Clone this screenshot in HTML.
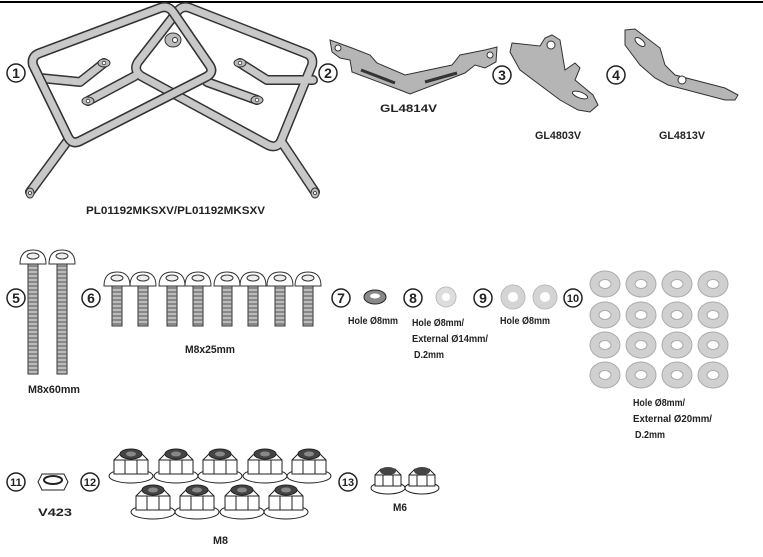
<!DOCTYPE html>
<html><head><meta charset="utf-8"><style>
html,body{margin:0;padding:0;background:#fff;width:763px;height:557px;overflow:hidden}
svg{display:block}
text{font-family:"Liberation Sans Narrow","Liberation Sans",sans-serif;font-weight:bold;fill:#222}
.n{font-size:14px;text-anchor:middle}
.l{font-size:11px}
.s{font-size:10px}
</style></head><body>
<svg width="763" height="557" viewBox="0 0 763 557" xmlns="http://www.w3.org/2000/svg">
<defs>
<g id="bl"><rect x="-5" y="0" width="10" height="112" fill="#bbb" stroke="#333" stroke-width="1"/>
<path d="M-5,4h10M-5,8h10M-5,12h10M-5,16h10M-5,20h10M-5,24h10M-5,28h10M-5,32h10M-5,36h10M-5,40h10M-5,44h10M-5,48h10M-5,52h10M-5,56h10M-5,60h10M-5,64h10M-5,68h10M-5,72h10M-5,76h10M-5,80h10M-5,84h10M-5,88h10M-5,92h10M-5,96h10M-5,100h10M-5,104h10M-5,108h10" stroke="#555" stroke-width="1"/>
<path d="M-13,2 Q-13,-12 0,-12 Q13,-12 13,2 Z" fill="#fff" stroke="#333"/><ellipse cx="0" cy="-6" rx="6" ry="3" fill="#eee" stroke="#333"/></g>
<g id="bs"><rect x="-5" y="0" width="10" height="42" fill="#bbb" stroke="#333" stroke-width="1"/>
<path d="M-5,4h10M-5,8h10M-5,12h10M-5,16h10M-5,20h10M-5,24h10M-5,28h10M-5,32h10M-5,36h10M-5,40h10" stroke="#555"/>
<path d="M-13,2 Q-13,-12 0,-12 Q13,-12 13,2 Z" fill="#fff" stroke="#333"/><ellipse cx="0" cy="-6" rx="6" ry="3" fill="#eee" stroke="#333"/></g>
<g id="nut"><ellipse cx="0" cy="10" rx="22" ry="7" fill="#fff" stroke="#222"/>
<path d="M-17,8 L-17,-6 L-9,-14 L9,-14 L17,-6 L17,8 Z" fill="#fff" stroke="#222"/>
<path d="M-6,-6 L-6,8 M6,-6 L6,8 M-17,-6 L-6,-6 L6,-6 L17,-6" stroke="#222" fill="none"/>
<ellipse cx="0" cy="-12" rx="11" ry="5" fill="#444" stroke="#222"/><ellipse cx="0" cy="-12" rx="5" ry="2.5" fill="#888"/></g>
<g id="nut6"><ellipse cx="0" cy="8" rx="17" ry="6" fill="#fff" stroke="#222"/>
<path d="M-13,6 L-13,-5 L-7,-11 L7,-11 L13,-5 L13,6 Z" fill="#fff" stroke="#222"/>
<path d="M-5,-5 L-5,6 M5,-5 L5,6 M-13,-5 L13,-5" stroke="#222" fill="none"/>
<ellipse cx="0" cy="-9" rx="8" ry="4" fill="#444"/></g>
<g id="w"><ellipse rx="15" ry="13" fill="#d0d0d0" stroke="#aaa"/><ellipse rx="6" ry="4.5" fill="#fff" stroke="#aaa"/></g>
</defs>
<line x1="0" y1="2" x2="763" y2="2" stroke="#000" stroke-width="2"/>
<!-- frames -->
<g fill="none" stroke-linejoin="round" stroke-linecap="round">
<g stroke="#333" stroke-width="10">
<path d="M40,53 L160,8 Q168,5 173,12 L210,66 Q214,73 206,77 L80,141 Q72,145 68,137 L33,65 Q31,56 40,53 Z"/>
<path d="M305,53 L190,8 Q182,5 177,12 L138,62 Q133,70 141,76 L268,145 Q277,149 281,141 L312,65 Q314,56 305,53 Z"/>
<path d="M69,139 L30,192 M281,141 L315,192 M40,78 L80,82 L104,63 M313,80 L267,80 L240,63 M88,101 L135,76 M207,82 L257,100"/>
</g>
<g stroke="#c8c8c8" stroke-width="7">
<path d="M305,53 L190,8 Q182,5 177,12 L138,62 Q133,70 141,76 L268,145 Q277,149 281,141 L312,65 Q314,56 305,53 Z"/>
<path d="M69,139 L30,192 M281,141 L315,192 M40,78 L80,82 L104,63 M313,80 L267,80 L240,63 M88,101 L135,76 M207,82 L257,100"/>
</g>
<path d="M40,53 L160,8 Q168,5 173,12 L210,66 Q214,73 206,77 L80,141 Q72,145 68,137 L33,65 Q31,56 40,53 Z" stroke="#333" stroke-width="10"/>
<path d="M40,53 L160,8 Q168,5 173,12 L210,66 Q214,73 206,77 L80,141 Q72,145 68,137 L33,65 Q31,56 40,53 Z" stroke="#c8c8c8" stroke-width="7"/>
</g>
<ellipse cx="173" cy="40" rx="8" ry="7" fill="#bbb" stroke="#333"/><circle cx="175" cy="40" r="2.5" fill="#fff" stroke="#333"/>
<g fill="#bbb" stroke="#333"><ellipse cx="104" cy="63" rx="6" ry="4"/><ellipse cx="240" cy="63" rx="6" ry="4"/><ellipse cx="88" cy="101" rx="6" ry="4"/><ellipse cx="257" cy="100" rx="6" ry="4"/><ellipse cx="30" cy="193" rx="4" ry="5"/><ellipse cx="315" cy="193" rx="4" ry="5"/></g>
<g fill="#fff" stroke="#333" stroke-width=".8"><circle cx="104" cy="63" r="1.8"/><circle cx="240" cy="63" r="1.8"/><circle cx="88" cy="101" r="1.8"/><circle cx="257" cy="100" r="1.8"/><circle cx="30" cy="193" r="1.5"/><circle cx="315" cy="193" r="1.5"/></g>
<!-- bracket 2 -->
<path d="M330,40 L352,48 L370,55 L377,63 L405,75 L452,65 L460,55 L485,50 L497,47 L496,62 L485,68 L475,65 L465,73 L410,94 L400,90 L352,72 L350,60 L340,58 L332,52 Z" fill="#b5b5b5" stroke="#333"/>
<path d="M361,70 L395,83 M425,82 L457,73" stroke="#333" stroke-width="3"/>
<circle cx="338" cy="48" r="3" fill="#fff" stroke="#333"/><circle cx="490" cy="55" r="3" fill="#fff" stroke="#333"/>
<!-- bracket 3 -->
<path d="M512,43 L540,46 L545,38 L552,35 L560,40 L565,70 L575,63 L580,68 L575,80 L593,95 L598,105 L590,112 L578,110 L560,100 L520,70 L510,52 Z" fill="#b5b5b5" stroke="#333"/>
<circle cx="551" cy="45" r="4" fill="#fff" stroke="#333"/><ellipse cx="580" cy="95" rx="8" ry="3" fill="#fff" stroke="#333" transform="rotate(20 580 95)"/>
<!-- bracket 4 -->
<path d="M625,30 L635,29 L660,48 L665,65 L675,75 L725,88 L738,95 L735,100 L725,100 L668,85 L655,78 L640,65 L625,45 Z" fill="#b5b5b5" stroke="#333"/>
<circle cx="682" cy="80" r="4" fill="#fff" stroke="#333"/><ellipse cx="640" cy="42" rx="6" ry="3" fill="#fff" stroke="#333" transform="rotate(40 640 42)"/>
<!-- bolts -->
<use href="#bl" x="33" y="262"/><use href="#bl" x="62" y="262"/>
<use href="#bs" x="117" y="284"/><use href="#bs" x="143" y="284"/><use href="#bs" x="172" y="284"/><use href="#bs" x="198" y="284"/><use href="#bs" x="227" y="284"/><use href="#bs" x="253" y="284"/><use href="#bs" x="280" y="284"/><use href="#bs" x="308" y="284"/>
<!-- washers -->
<ellipse cx="375" cy="297" rx="11" ry="7" fill="#888" stroke="#222"/><ellipse cx="375" cy="296" rx="5" ry="2.5" fill="#fff"/>
<circle cx="446" cy="297" r="10" fill="#ddd" stroke="#bbb"/><circle cx="446" cy="297" r="4" fill="#fff"/>
<circle cx="513" cy="297" r="12" fill="#d4d4d4" stroke="#bbb"/><circle cx="513" cy="297" r="5" fill="#fff"/>
<circle cx="545" cy="297" r="12" fill="#d4d4d4" stroke="#bbb"/><circle cx="545" cy="297" r="5" fill="#fff"/>
<g>
<use href="#w" x="605" y="284"/><use href="#w" x="641" y="284"/><use href="#w" x="677" y="284"/><use href="#w" x="713" y="284"/>
<use href="#w" x="605" y="315"/><use href="#w" x="641" y="315"/><use href="#w" x="677" y="315"/><use href="#w" x="713" y="315"/>
<use href="#w" x="605" y="345"/><use href="#w" x="641" y="345"/><use href="#w" x="677" y="345"/><use href="#w" x="713" y="345"/>
<use href="#w" x="605" y="375"/><use href="#w" x="641" y="375"/><use href="#w" x="677" y="375"/><use href="#w" x="713" y="375"/>
</g>
<!-- nuts -->
<path d="M38,482 L42,474 L64,474 L68,482 L64,490 L42,490 Z" fill="#fff" stroke="#222"/><ellipse cx="53" cy="480" rx="9" ry="4" fill="#fff" stroke="#222" stroke-width="2"/>
<use href="#nut" x="131" y="466"/><use href="#nut" x="176" y="466"/><use href="#nut" x="220" y="466"/><use href="#nut" x="265" y="466"/><use href="#nut" x="309" y="466"/>
<use href="#nut" x="153" y="502"/><use href="#nut" x="197" y="502"/><use href="#nut" x="242" y="502"/><use href="#nut" x="286" y="502"/>
<use href="#nut6" x="388" y="480"/><use href="#nut6" x="422" y="480"/>
<!-- number circles -->
<g fill="#fff" stroke="#222" stroke-width="1.5">
<circle cx="16" cy="73" r="9"/><circle cx="328" cy="73" r="9"/><circle cx="502" cy="75" r="9"/><circle cx="616" cy="75" r="9"/>
<circle cx="16" cy="298" r="9"/><circle cx="91" cy="298" r="9"/><circle cx="341" cy="298" r="9"/><circle cx="413" cy="298" r="9"/><circle cx="483" cy="298" r="9"/><circle cx="573" cy="298" r="9"/>
<circle cx="16" cy="482" r="9"/><circle cx="90" cy="482" r="9"/><circle cx="348" cy="482" r="9"/>
</g>
<text class="n" x="16" y="78">1</text><text class="n" x="328" y="78">2</text><text class="n" x="502" y="80">3</text><text class="n" x="616" y="80">4</text>
<text class="n" x="16" y="303">5</text><text class="n" x="91" y="303">6</text><text class="n" x="341" y="303">7</text><text class="n" x="413" y="303">8</text><text class="n" x="483" y="303">9</text><text class="n" x="573" y="302" style="font-size:11px">10</text>
<text class="n" x="16" y="486" style="font-size:11px">11</text><text class="n" x="90" y="486" style="font-size:11px">12</text><text class="n" x="348" y="486" style="font-size:11px">13</text>
<!-- labels -->
<text class="l" x="86" y="214" textLength="179" lengthAdjust="spacingAndGlyphs">PL01192MKSXV/PL01192MKSXV</text>
<text class="l" x="380" y="112" textLength="57" lengthAdjust="spacingAndGlyphs">GL4814V</text>
<text class="l" x="535" y="139" textLength="46" lengthAdjust="spacingAndGlyphs">GL4803V</text>
<text class="l" x="659" y="139" textLength="46" lengthAdjust="spacingAndGlyphs">GL4813V</text>
<text class="l" x="28" y="393" textLength="52" lengthAdjust="spacingAndGlyphs">M8x60mm</text>
<text class="l" x="185" y="353" textLength="50" lengthAdjust="spacingAndGlyphs">M8x25mm</text>
<text class="s" x="348" y="324" textLength="50" lengthAdjust="spacingAndGlyphs">Hole Ø8mm</text>
<text class="s" x="412" y="326" textLength="52" lengthAdjust="spacingAndGlyphs">Hole Ø8mm/</text>
<text class="s" x="412" y="342" textLength="76" lengthAdjust="spacingAndGlyphs">External Ø14mm/</text>
<text class="s" x="414" y="358" textLength="30" lengthAdjust="spacingAndGlyphs">D.2mm</text>
<text class="s" x="500" y="324" textLength="50" lengthAdjust="spacingAndGlyphs">Hole Ø8mm</text>
<text class="s" x="633" y="406" textLength="52" lengthAdjust="spacingAndGlyphs">Hole Ø8mm/</text>
<text class="s" x="633" y="422" textLength="79" lengthAdjust="spacingAndGlyphs">External Ø20mm/</text>
<text class="s" x="635" y="438" textLength="30" lengthAdjust="spacingAndGlyphs">D.2mm</text>
<text class="l" x="38" y="516" textLength="34" lengthAdjust="spacingAndGlyphs">V423</text>
<text class="l" x="213" y="544" textLength="15" lengthAdjust="spacingAndGlyphs">M8</text>
<text class="l" x="393" y="511" textLength="14" lengthAdjust="spacingAndGlyphs">M6</text>
</svg>
</body></html>
